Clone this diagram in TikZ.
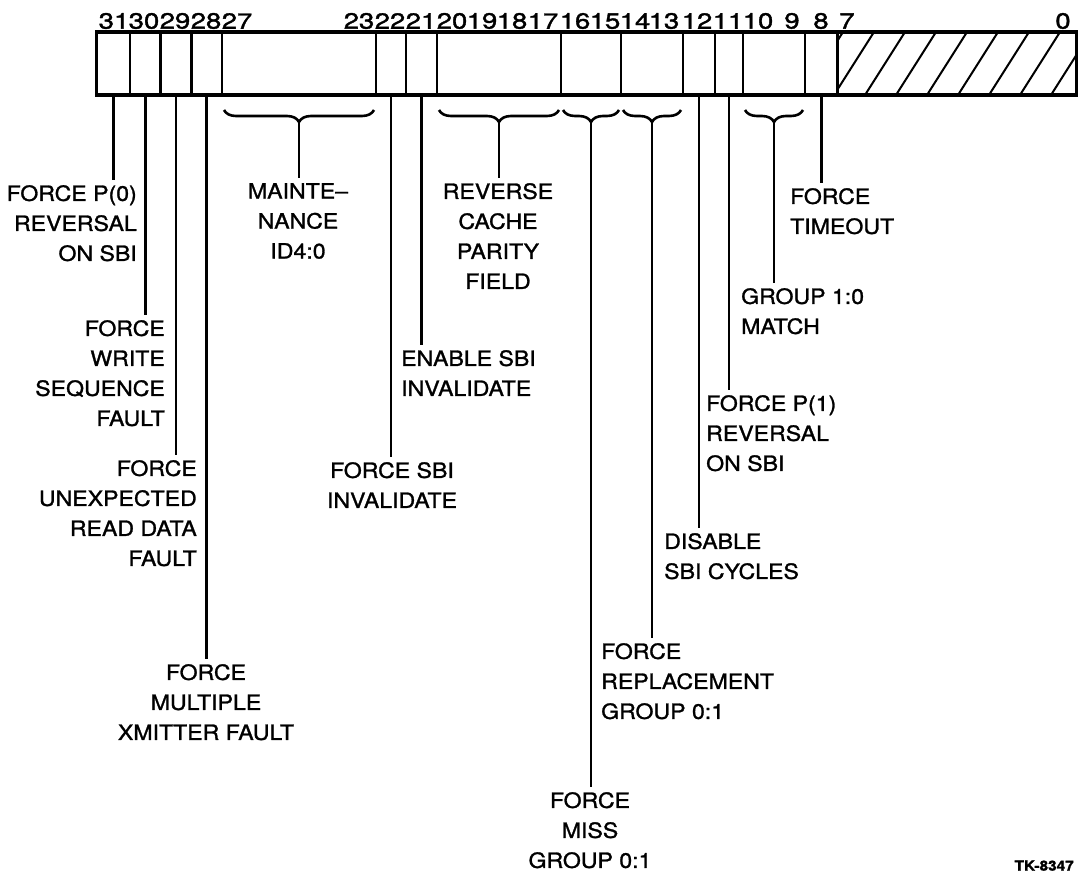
\documentclass[tikz,border=0pt]{standalone}
\usepackage{fontspec}
\setmainfont{TeX Gyre Heros}[FakeStretch=1.1, FakeBold=1.3]
\newfontfamily\bitfont{TeX Gyre Heros}[FakeStretch=1.25, FakeBold=1.6]
\usetikzlibrary{decorations.pathreplacing}
\tikzset{
  field/.style={draw, line width=2.5pt, minimum height=63pt, inner sep=0pt, outer sep=0pt},
  bitnum/.style={font=\bitfont\fontsize{22}{22}\selectfont, inner sep=0pt},
  lbl/.style={font=\fontsize{21}{30}\selectfont, inner sep=0pt},
  lead/.style={line width=2.8pt},
  brc/.style={line width=2.6pt, decorate, decoration={brace, mirror, amplitude=12pt}},
  hatch/.style={line width=2pt},
}
\begin{document}
\begin{tikzpicture}[x=1pt, y=-1pt]
  \useasboundingbox (0,0) rectangle (1078,874);
  % register fields
  \foreach \name/\l/\r in {f31/96.5/130, f30/130/160.5, f29/160.5/191.5, f28/191.5/222,
      f27/222/376, f22/376/406, f21/406/437, f20/437/561, f16/561/621, f14/621/683,
      f12/683/715, f11/715/743, f10/743/805, f8/805/837.5, f7/837.5/1077}
    \node[field, minimum width=\r-\l, anchor=north west] (\name) at (\l,32) {};
  \draw[line width=3.4pt] (f31.north west) rectangle (f7.south east);
  % reserved bits
  \begin{scope}
    \clip (f7.north west) rectangle (f7.south east);
    \foreach \i in {0,...,8}
      \draw[hatch] (803+\i*31,95) -- ++(40,-63);
  \end{scope}
  % bit numbers
  \foreach \n/\x in {31/114,30/144,29/175,28/206,27/237,23/359,22/390,21/421,20/452,19/482,
      18/512,17/543,16/575,15/605,14/635,13/664,12/697,11/728,10/758,9/792,8/821,7/847,0/1063}
    \node[bitnum] (n\n) at (\x,21) {\n};
  % labels
  \node[lbl, align=right, anchor=north east] (l31) at (137,185) {FORCE P(0)\\REVERSAL\\ON SBI};
  \node[lbl, align=right, anchor=north east] (l30) at (165,320) {FORCE\\WRITE\\SEQUENCE\\FAULT};
  \node[lbl, align=right, anchor=north east] (l29) at (197,460) {FORCE\\UNEXPECTED\\READ DATA\\FAULT};
  \node[lbl, align=center, anchor=north] (l28) at (206,664) {FORCE\\MULTIPLE\\XMITTER FAULT};
  \node[lbl, align=center, anchor=north] (l27) at (298,183) {MAINTE--\\NANCE\\ID4:0};
  \node[lbl, align=center, anchor=north] (l22) at (392,462) {FORCE SBI\\INVALIDATE};
  \node[lbl, align=left, anchor=north west] (l21) at (401,350) {ENABLE SBI\\INVALIDATE};
  \node[lbl, align=center, anchor=north] (l20) at (498,183) {REVERSE\\CACHE\\PARITY\\FIELD};
  \node[lbl, align=center, anchor=north] (l16) at (590,792) {FORCE\\MISS\\GROUP 0:1};
  \node[lbl, align=left, anchor=north west] (l14) at (601,643) {FORCE\\REPLACEMENT\\GROUP 0:1};
  \node[lbl, align=left, anchor=north west] (l12) at (664,533) {DISABLE\\SBI CYCLES};
  \node[lbl, align=left, anchor=north west] (l11) at (706,395) {FORCE P(1)\\REVERSAL\\ON SBI};
  \node[lbl, align=left, anchor=north west] (l10) at (741,288) {GROUP 1:0\\MATCH};
  \node[lbl, align=left, anchor=north west] (l8) at (790,188) {FORCE\\TIMEOUT};
  \node[font=\fontsize{14}{14}\selectfont\bfseries, anchor=south east, inner sep=0pt] (tk) at (1074,871) {TK-8347};
  % single bit leaders
  \foreach \f/\l in {f31/l31, f30/l30, f29/l29, f28/l28, f22/l22, f21/l21, f12/l12, f11/l11, f8/l8}
    \draw[lead] (\f.south) -- ([yshift=5pt]\f.south |- \l.north);
  % braces over multi-bit fields
  \foreach \f/\l in {f27/l27, f20/l20, f16/l16, f14/l14, f10/l10} {
    \draw[brc] ([xshift=2pt, yshift=-15pt]\f.south west) -- ([xshift=-2pt, yshift=-15pt]\f.south east);
    \coordinate (t\f) at ([yshift=-27pt]\f.south);
    \draw[lead] (t\f) -- ([yshift=5pt]t\f |- \l.north);
  }
\end{tikzpicture}
\end{document}
